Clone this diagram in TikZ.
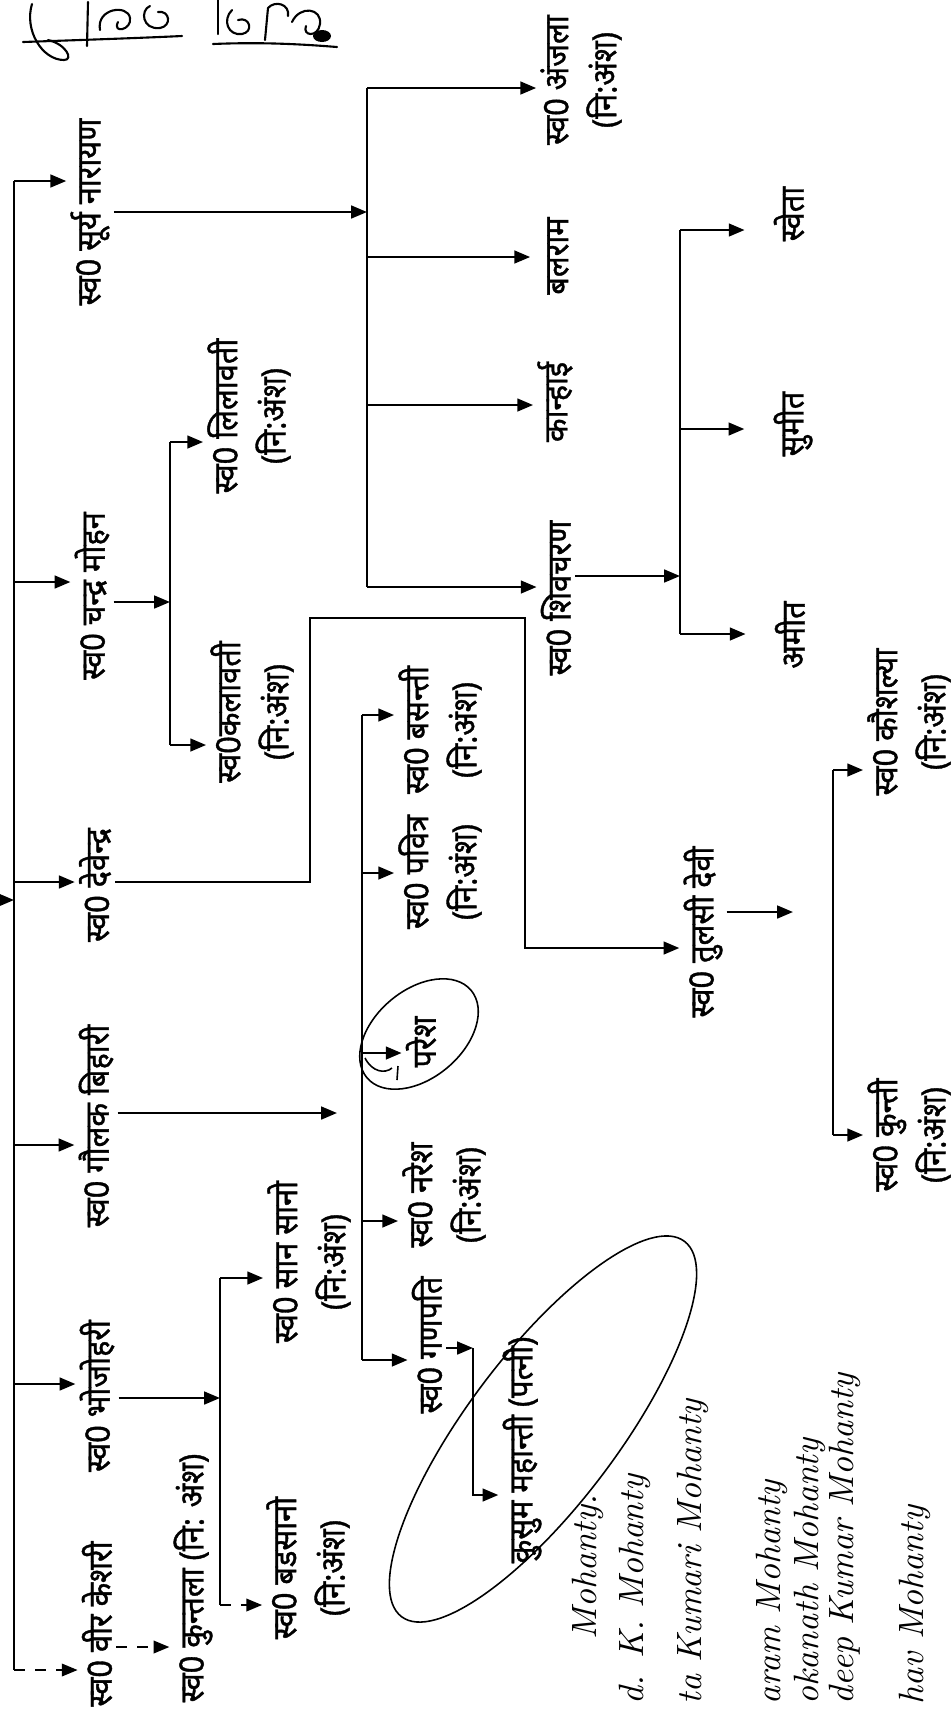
\documentclass[tikz,border=0pt]{standalone}
\usepackage{fontspec}
\newfontfamily\deva[Script=Devanagari,FakeBold=1.2]{Noto Sans}
\usetikzlibrary{arrows.meta,calc,positioning}
\tikzset{
  member/.style={rotate=90,xscale=0.92,font={\deva\fontsize{9.5}{13.7}\selectfont},inner sep=1pt,align=center},
  link/.style={line width=0.7pt},
  arr/.style={link,-{Triangle[length=4.5pt,width=3.6pt]}},
  darr/.style={arr,dashed,line width=0.5pt},
  ring/.style={line width=0.45pt},
  pen/.style={line width=0.6pt,line cap=round,line join=round},
  hand/.style={rotate=90,font={\itshape\fontsize{10}{10}\selectfont},inner sep=0pt,anchor=west}
}

\begin{document}
\begin{tikzpicture}[x=0.1mm,y=-0.1mm]
\useasboundingbox (0,0) rectangle (952,1709);

% first generation
\node[member] (surya) at (90,212) {स्व0 सूर्य नारायण};
\node[member] (chandra) at (92,596) {स्व0 चन्द्र मोहन};
\node[member] (devendra) at (95,885) {स्व0 देवेन्द्र};
\node[member] (golak) at (96,1126) {स्व0 गौलक बिहारी};
\node[member] (bhoj) at (97,1396) {स्व0 भोजोहरी};
\node[member] (veer) at (97,1624) {स्व0 वीर केशरी};
\node[member] (kuntala) at (193,1578) {स्व0 कुन्तला (नि: अंश)};

% children of suryanarayan
\node[member] (anjala) at (581,80) {स्व0 अंजला\\(नि:अंश)};
\node[member] (balram) at (558,256) {बलराम};
\node[member] (kanhai) at (555,402) {कान्हाई};
\node[member] (shiv) at (556,598) {स्व0 शिवचरण};
\node[member] (shweta) at (789,214) {स्वेता};
\node[member] (sumit) at (793,424) {सुमीत};
\node[member] (amit) at (790,635) {अमीत};

% children of chandra mohan
\node[member] (lila) at (249,416) {स्व0 लिलावती\\(नि:अंश)};
\node[member] (kala) at (252,712) {स्व0कलावती\\(नि:अंश)};

% devendra
\node[member] (tulsi) at (703,932) {स्व0 तुलसी देवी};
\node[member] (kaush) at (909,722) {स्व0 कौशल्या\\(नि:अंश)};
\node[member] (kunti) at (909,1135) {स्व0 कुन्ती\\(नि:अंश)};

% golak bihari
\node[member] (basanti) at (440,730) {स्व0 बसन्ती\\(नि:अंश)};
\node[member] (pavitra) at (440,872) {स्व0 पवित्र\\(नि:अंश)};
\node[member] (paresh) at (421,1042) {परेश};
\node[member] (naresh) at (444,1195) {स्व0 नरेश\\(नि:अंश)};
\node[member] (ganpati) at (427,1345) {स्व0 गणपति};
\node[member] (kusum) at (522,1450) {कुसुम महान्ती (पत्नी)};

% bhojohari
\node[member] (san) at (309,1262) {स्व0 सान सानो\\(नि:अंश)};
\node[member] (bada) at (308,1568) {स्व0 बडसानो\\(नि:अंश)};

% first line
\coordinate (gTop) at (14,181);
\coordinate (gC) at (14,582);
\coordinate (gD) at (14,882);
\coordinate (gG) at (14,1145);
\coordinate (gB) at (14,1384);
\coordinate (gBot) at (14,1670);
\coordinate (gIn) at (0,900);
\draw[link] (gTop) -- (gBot);
\draw[arr] (gIn) -- (gIn -| gTop);
\draw[arr] (gTop) -- (surya.north |- gTop);
\foreach \who/\pt in {chandra/gC,devendra/gD,golak/gG,bhoj/gB}
  \draw[arr] (\pt) -- (\who.north |- \pt);
\draw[darr] (gBot) -- (veer.north |- gBot);
\draw[darr] (veer.south |- 0,1647) -- (kuntala.north |- 0,1647);

% suryanarayan
\coordinate (sTop) at (367,88);
\coordinate (sIn) at (367,212);
\coordinate (sBal) at (367,257);
\coordinate (sKan) at (367,405);
\coordinate (sBot) at (367,587);
\draw[arr] (surya.south |- sIn) -- (sIn);
\draw[link] (sTop) -- (sBot);
\draw[arr] (sTop) -- (anjala.north |- sTop);
\draw[arr,shorten >=1.3mm] (sBal) -- (balram.north |- sBal);
\draw[arr] (sKan) -- (kanhai.north |- sKan);
\draw[arr] (sBot) -- (shiv.north |- sBot);

% shivcharan
\coordinate (hTop) at (680,230);
\coordinate (hIn) at (680,576);
\coordinate (hMid) at (680,429);
\coordinate (hBot) at (680,634);
\draw[arr] (shiv.south |- hIn) -- (hIn);
\draw[link] (hTop) -- (hBot);
\foreach \who/\pt in {shweta/hTop,sumit/hMid,amit/hBot}
  \draw[arr,shorten >=2.5mm] (\pt) -- (\who.north |- \pt);

% chandra mohan
\coordinate (cTop) at (170,442);
\coordinate (cIn) at (170,602);
\coordinate (cBot) at (170,745);
\draw[arr] (chandra.south |- cIn) -- (cIn);
\draw[link] (cTop) -- (cBot);
\draw[arr] (cTop) -- (lila.north |- cTop);
\draw[arr] (cBot) -- (kala.north |- cBot);

% devendra
\coordinate (dA) at (310,882);
\coordinate (dB) at (310,618);
\coordinate (dC) at (525,618);
\coordinate (dD) at (525,948);
\draw[arr] (devendra.south |- dA) -- (dA) -- (dB) -- (dC) -- (dD) -- (tulsi.north |- dD);
\coordinate (tTip) at (793,912);
\coordinate (kTop) at (833,770);
\coordinate (kBot) at (833,1135);
\draw[arr] (tulsi.south |- tTip) -- (tTip);
\draw[link] (kTop) -- (kBot);
\draw[arr] (kTop) -- (kaush.north |- kTop);
\draw[arr] (kBot) -- (kunti.north |- kBot);

% golak bihari
\coordinate (oTip) at (337,1113);
\coordinate (oTop) at (362,715);
\coordinate (oPav) at (362,873);
\coordinate (oPar) at (362,1053);
\coordinate (oNar) at (362,1221);
\coordinate (oBot) at (362,1360);
\draw[arr] (golak.south |- oTip) -- (oTip);
\draw[link] (oTop) -- (oBot);
\foreach \who/\pt in {basanti/oTop,pavitra/oPav,paresh/oPar,naresh/oNar,ganpati/oBot}
  \draw[arr] (\pt) -- (\who.north |- \pt);
\coordinate (pA) at (473,1348);
\coordinate (pB) at (473,1495);
\draw[arr] (ganpati.south |- pA) -- (pA);
\draw[arr] (pA) -- (pB) -- (kusum.north |- pB);

% bhojohari
\coordinate (bTop) at (220,1278);
\coordinate (bIn) at (220,1398);
\coordinate (bBot) at (220,1605);
\draw[arr] (bhoj.south |- bIn) -- (bIn);
\draw[link] (bTop) -- (bBot);
\draw[arr] (bTop) -- (san.north |- bTop);
\draw[darr] (bBot) -- (bada.north |- bBot);

% pen marks
\draw[ring,rotate around={40:(419,1034)}] (419,1034) ellipse [x radius=68,y radius=44];
\draw[ring] (365,1058) .. controls (372,1072) and (385,1074) .. (392,1068);
\draw[ring] (398,1066) -- (397,1080);
\draw[ring,rotate around={53:(543,1429)}] (543,1429) ellipse [x radius=235,y radius=75];

% signatures at the top
\draw[pen] (23,42) .. controls (80,40) and (140,38) .. (182,36);
\draw[pen] (32,4) .. controls (24,30) and (42,60) .. (64,60) .. controls (74,60) and (66,44) .. (48,40);
\draw[pen] (88,2) -- (87,46);
\draw[pen] (100,30) .. controls (96,8) and (128,4) .. (130,18) .. controls (132,30) and (112,34) .. (118,22);
\draw[pen] (150,6) .. controls (140,10) and (142,30) .. (160,28) .. controls (172,26) and (170,10) .. (158,12);
\draw[pen] (213,44) .. controls (260,42) and (300,44) .. (337,47);
\draw[pen] (218,0) -- (218,34);
\draw[pen] (232,10) .. controls (222,20) and (228,36) .. (242,34) .. controls (254,32) and (250,16) .. (238,20);
\draw[pen] (265,40) -- (268,8) .. controls (275,0) and (290,4) .. (288,16);
\draw[pen] (292,22) .. controls (300,5) and (322,8) .. (320,24) .. controls (318,38) and (302,36) .. (306,26);
\fill (322,36) ellipse [x radius=9,y radius=6];

% handwritten names
\node[hand] at (588,1640) {Mohanty.};
\node[hand] at (635,1705) {d. K. Mohanty};
\node[hand] at (693,1705) {ta Kumari Mohanty};
\node[hand] at (772,1705) {aram Mohanty};
\node[hand] at (810,1705) {okanath Mohanty};
\node[hand] at (845,1705) {deep Kumar Mohanty};
\node[hand] at (915,1705) {hav Mohanty};
\end{tikzpicture}
\end{document}
